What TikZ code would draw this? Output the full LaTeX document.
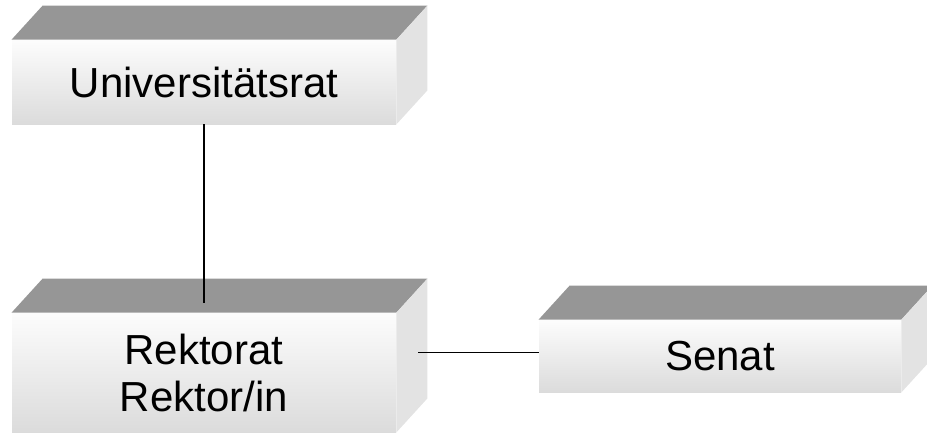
\documentclass[tikz,border=0pt]{standalone}
\usepackage{fontspec}
\setmainfont{Liberation Sans}
\usetikzlibrary{calc}
\definecolor{TopClr}{rgb}{0.588,0.588,0.588}
\definecolor{SideClr}{rgb}{0.890,0.890,0.890}
\definecolor{FrontTopClr}{rgb}{0.99,0.99,0.99}
\definecolor{FrontBotClr}{rgb}{0.86,0.86,0.86}

\tikzset{
  block/.style={shading=axis,top color=FrontTopClr,bottom color=FrontBotClr,
    inner sep=0pt,align=center,font=\fontsize{21}{23.5}\selectfont},
  link/.style={line width=0.6pt,color=black}
}
\newcommand{\BlockFaces}[1]{%
  \fill[TopClr] (#1.north west) -- ++(31,-34) -- ($(#1.north east)+(31,-34)$) -- (#1.north east) -- cycle;
  \fill[SideClr] (#1.north east) -- ++(31,-34) -- ($(#1.south east)+(31,-34)$) -- (#1.south east) -- cycle;
}

\begin{document}
\begin{tikzpicture}[x=0.5pt,y=-0.5pt]
\useasboundingbox (0,0) rectangle (927,434);
\clip (0,0) rectangle (927,434);

\node[block,minimum width=192pt,minimum height=42pt] (uni) at (204,82) {Universitätsrat};
\node[block,minimum width=192pt,minimum height=59.5pt] (rek) at (204,372.5) {Rektorat\\Rektor/in};
\node[block,minimum width=181pt,minimum height=36pt] (senat) at (720,356) {Senat};

\BlockFaces{uni}
\BlockFaces{rek}
\BlockFaces{senat}

\coordinate (rektop) at ($(rek.north)+(0,-10)$);
\coordinate (rekside) at ($(rek.east)+(22,-20)$);

\draw[link] (uni.south) -- (rektop);
\draw[link] (rekside) -- (rekside -| senat.west);

\end{tikzpicture}
\end{document}
